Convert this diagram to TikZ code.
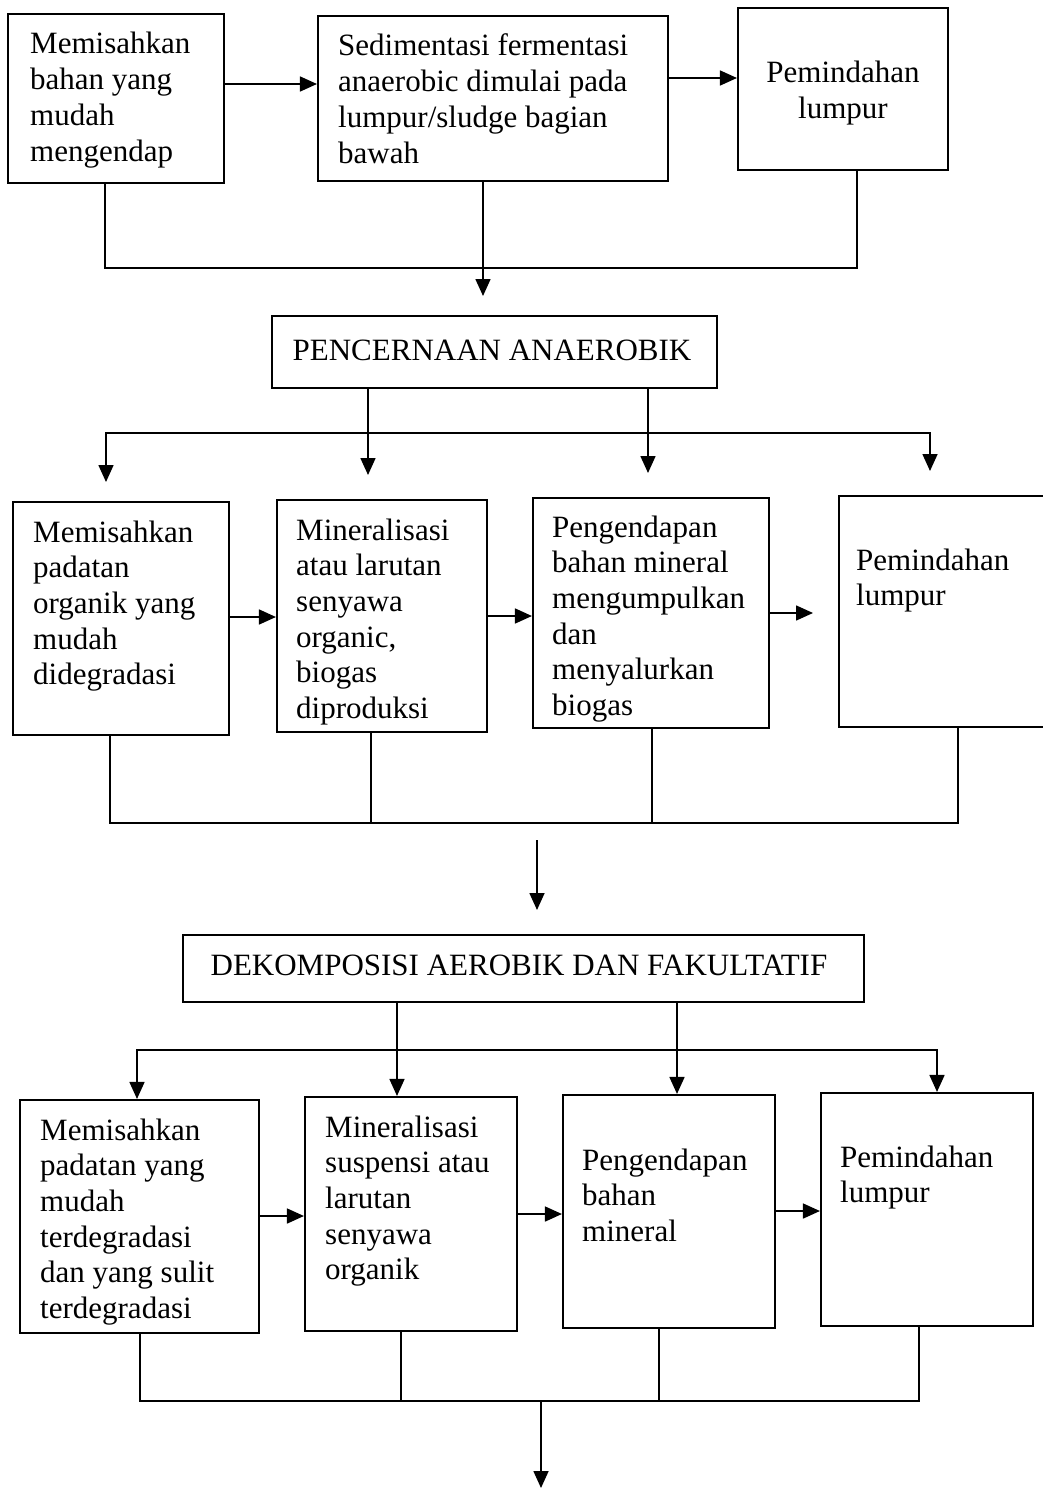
\documentclass[tikz,border=0pt]{standalone}
\usepackage{fontspec}
\setmainfont{Liberation Serif}
\usetikzlibrary{arrows.meta}
\newcommand\lstrut{\rule{0pt}{25pt}}
\begin{document}
\begin{tikzpicture}[x=1pt,y=-1pt,
  box/.style={draw=black, line width=2.1pt, rectangle, inner sep=0pt},
  txt/.style={inner sep=0pt, align=left, anchor=north west, font=\fontsize{31}{36}\selectfont},
  txtb/.style={inner sep=0pt, align=left, anchor=north west, font=\fontsize{31}{35.6}\selectfont},
  ttl/.style={inner sep=0pt, anchor=base, font=\fontsize{31}{36}\selectfont},
  ln/.style={line width=1.6pt},
  arr/.style={line width=1.6pt, -{Triangle[length=17pt,width=15pt]}},
  arrb/.style={line width=1.6pt, {Triangle[length=17pt,width=15pt]}-{Triangle[length=17pt,width=15pt]}}]
\useasboundingbox[fill=white] (0,0) rectangle (1043,1490);

% ---- row 1 ----
\node[box, minimum width=216, minimum height=169] (A) at (116,98.5) {};
\node[box, minimum width=350, minimum height=165] (B) at (493,98.5) {};
\node[box, minimum width=210, minimum height=162] (C) at (843,89) {};
\node[txt] (tA) at (30,28) {\lstrut Memisahkan\\bahan yang\\mudah\\mengendap};
\node[txt] (tB) at (338,30) {\lstrut Sedimentasi fermentasi\\anaerobic dimulai pada\\lumpur/sludge bagian\\bawah};
\node[txt, align=center, anchor=north] (tC) at (843,57) {\lstrut Pemindahan\\lumpur};

\coordinate (r1) at (0,84);
\coordinate (r2) at (0,78);
\draw[arr] (A.east |- r1) -- (B.west |- r1);
\draw[arr] (B.east |- r2) -- (C.west |- r2);
\coordinate (b1L) at (105,268);
\coordinate (b1R) at (857,268);
\draw[ln] (A.south -| b1L) -- (b1L) -- (b1R) -- (C.south -| b1R);
\coordinate (t1) at (483,296);
\draw[arr] (B.south -| t1) -- (t1);

% ---- PENCERNAAN ----
\node[box, minimum width=445, minimum height=72] (P) at (494.5,352) {};
\node[ttl] (tP) at (492,360) {PENCERNAAN ANAEROBIK};
\coordinate (p1) at (368,475);
\coordinate (p2) at (648,473);
\draw[arr] (P.south -| p1) -- (p1);
\draw[arr] (P.south -| p2) -- (p2);
\coordinate (b2L) at (106,482);
\coordinate (b2R) at (930,471);
\coordinate (b2y) at (0,433);
\draw[arrb] (b2L) -- (b2L |- b2y) -- (b2R |- b2y) -- (b2R);

% ---- row 2 ----
\node[box, minimum width=216, minimum height=233] (D) at (121,618.5) {};
\node[box, minimum width=210, minimum height=232] (E) at (382,616) {};
\node[box, minimum width=236, minimum height=230] (F) at (651,613) {};
\node[box, minimum width=211, minimum height=231] (G) at (944.5,611.5) {};
\node[txtb] (tD) at (33,517) {\lstrut Memisahkan\\padatan\\organik yang\\mudah\\didegradasi};
\node[txtb] (tE) at (296,515) {\lstrut Mineralisasi\\atau larutan\\senyawa\\organic,\\biogas\\diproduksi};
\node[txtb] (tF) at (552,512) {\lstrut Pengendapan\\bahan mineral\\mengumpulkan\\dan\\menyalurkan\\biogas};
\node[txtb] (tG) at (856,545) {\lstrut Pemindahan\\lumpur};

\coordinate (r3) at (0,617);
\coordinate (r4) at (0,616);
\coordinate (r5) at (813,613);
\draw[arr] (D.east |- r3) -- (E.west |- r3);
\draw[arr] (E.east |- r4) -- (F.west |- r4);
\draw[arr] (F.east |- r5) -- (r5);
\coordinate (b3L) at (110,823);
\coordinate (b3E) at (371,823);
\coordinate (b3F) at (652,823);
\coordinate (b3R) at (958,823);
\draw[ln] (D.south -| b3L) -- (b3L) -- (b3R) -- (G.south -| b3R);
\draw[ln] (E.south -| b3E) -- (b3E);
\draw[ln] (F.south -| b3F) -- (b3F);
\coordinate (m1) at (537,840);
\coordinate (m2) at (537,910);
\draw[arr] (m1) -- (m2);

% ---- DEKOMPOSISI ----
\node[box, minimum width=681, minimum height=67] (Dk) at (523.5,968.5) {};
\node[ttl] (tDk) at (519,975) {DEKOMPOSISI AEROBIK DAN FAKULTATIF};

% ---- row 3 ----
\node[box, minimum width=239, minimum height=233] (H) at (139.5,1216.5) {};
\node[box, minimum width=212, minimum height=234] (I) at (411,1214) {};
\node[box, minimum width=212, minimum height=233] (J) at (669,1211.5) {};
\node[box, minimum width=212, minimum height=233] (K) at (927,1209.5) {};
\node[txtb] (tH) at (40,1115) {\lstrut Memisahkan\\padatan yang\\mudah\\terdegradasi\\dan yang sulit\\terdegradasi};
\node[txtb] (tI) at (325,1112) {\lstrut Mineralisasi\\suspensi atau\\larutan\\senyawa\\organik};
\node[txtb] (tJ) at (582,1145) {\lstrut Pengendapan\\bahan\\mineral};
\node[txtb] (tK) at (840,1142) {\lstrut Pemindahan\\lumpur};

\coordinate (d1) at (397,0);
\coordinate (d2) at (677,0);
\draw[arr] (Dk.south -| d1) -- (I.north -| d1);
\draw[arr] (Dk.south -| d2) -- (J.north -| d2);
\coordinate (b4L) at (137,1050);
\coordinate (b4R) at (937,1050);
\draw[arrb] (H.north -| b4L) -- (b4L) -- (b4R) -- (K.north -| b4R);

\coordinate (r6) at (0,1216);
\coordinate (r7) at (0,1214);
\coordinate (r8) at (0,1211);
\draw[arr] (H.east |- r6) -- (I.west |- r6);
\draw[arr] (I.east |- r7) -- (J.west |- r7);
\draw[arr] (J.east |- r8) -- (K.west |- r8);
\coordinate (b5L) at (140,1401);
\coordinate (b5I) at (401,1401);
\coordinate (b5J) at (659,1401);
\coordinate (b5R) at (919,1401);
\coordinate (b5M) at (541,1401);
\coordinate (end) at (541,1488);
\draw[ln] (H.south -| b5L) -- (b5L) -- (b5R) -- (K.south -| b5R);
\draw[ln] (I.south -| b5I) -- (b5I);
\draw[ln] (J.south -| b5J) -- (b5J);
\draw[arr] (b5M) -- (end);
\end{tikzpicture}
\end{document}
